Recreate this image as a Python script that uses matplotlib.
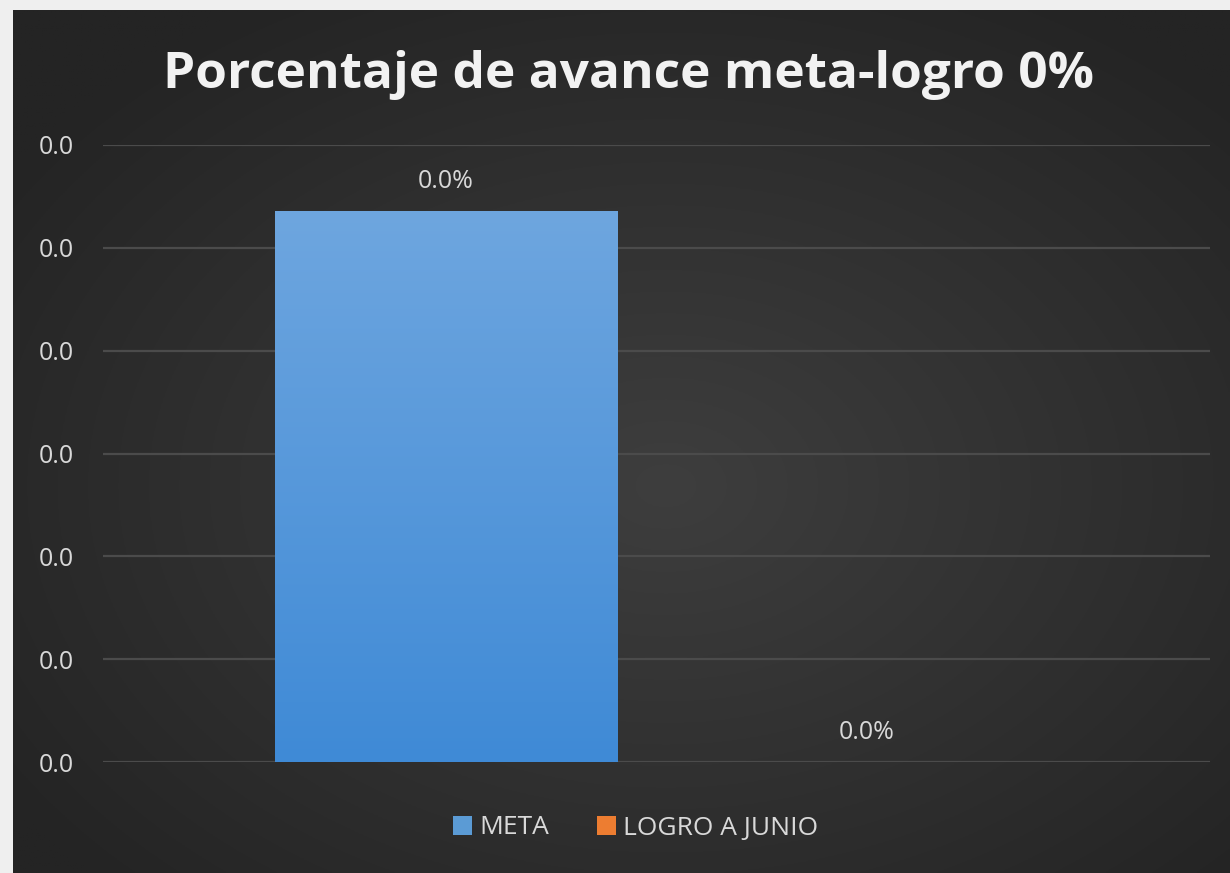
import numpy as np
import matplotlib
matplotlib.use("Agg")
import matplotlib.pyplot as plt
from matplotlib.patches import Patch

# ---- data ----
series = ["META", "LOGRO A JUNIO"]
values = [0.00536, 0.0]
series_colors = ["#5b9bd5", "#ed7d31"]
yticks = [0.000, 0.001, 0.002, 0.003, 0.004, 0.005, 0.006]
title = "Porcentaje de avance meta-logro 0%"

W, H = 1230, 873
fig = plt.figure(figsize=(W / 100, H / 100), dpi=100)
fig.patch.set_facecolor("#efefef")

# dark radial background panel
bg = fig.add_axes([13 / W, 0, (W - 13) / W, (H - 10) / H], zorder=-2)
yy, xx = np.mgrid[0:400, 0:560]
cx, cy = 300, 220
r = np.sqrt(((xx - cx) / 560) ** 2 + ((yy - cy) / 400) ** 2)
r = np.clip(r / 0.65, 0, 1)
inner = np.array([0x3e, 0x3e, 0x3e]) / 255
outer = np.array([0x24, 0x24, 0x24]) / 255
img = inner[None, None, :] * (1 - r[..., None]) + outer[None, None, :] * r[..., None]
bg.imshow(img, aspect="auto", extent=[0, 1, 0, 1], origin="upper")
bg.set_axis_off()

ax = fig.add_axes([103 / W, (H - 762) / H, (1210 - 103) / W, (762 - 145) / H])
ax.set_facecolor("none")

offsets = [-0.19, 0.19]
width = 0.309
bars = ax.bar(offsets, values, width=width, color=series_colors, zorder=3)

# gradient overlay on bars
for b, c in zip(bars, series_colors):
    if b.get_height() <= 0:
        continue
    grad = np.linspace(0, 1, 256)[:, None]
    top = np.array([0x6e, 0xa6, 0xdf]) / 255
    bot = np.array([0x3f, 0x8a, 0xd6]) / 255
    gimg = top[None, None, :] * (1 - grad[..., None]) + bot[None, None, :] * grad[..., None]
    gimg = np.repeat(gimg, 2, axis=1)
    x0, x1 = b.get_x(), b.get_x() + b.get_width()
    im = ax.imshow(gimg, extent=[x0, x1, 0, b.get_height()], aspect="auto", zorder=4, origin="upper")
    im.set_clip_path(b)

ax.set_xlim(-0.5, 0.5)
ax.set_ylim(yticks[0], yticks[-1])
ax.set_yticks(yticks)
ax.set_yticklabels([f"{t:.1f}" for t in yticks])
ax.set_xticks([])
ax.yaxis.grid(True, color="#4b4b4b", linewidth=1.6, zorder=0)
ax.set_axisbelow(True)
for s in ax.spines.values():
    s.set_visible(False)
ax.tick_params(axis="y", length=0, pad=21, labelsize=18, labelcolor="#d9d9d9")
for lbl in ax.get_yticklabels():
    lbl.set_fontfamily("Open Sans")

for b, v in zip(bars, values):
    ax.annotate(f"{v:.1f}%", (b.get_x() + b.get_width() / 2, v), xytext=(0, 21),
                textcoords="offset points", ha="center", va="center",
                fontsize=18, color="#d9d9d9", family="Open Sans", zorder=5)

fig.text(628 / W, 1 - 75 / H, title, ha="center", va="center", fontsize=37,
         fontweight="bold", color="#f2f2f2", family="Open Sans")

handles = [Patch(facecolor=c, edgecolor="none") for c in series_colors]
leg = fig.legend(handles, series, loc="center", bbox_to_anchor=(636 / W, 1 - 828 / H),
                 ncol=2, frameon=False, fontsize=19, handlelength=0.7, handleheight=0.7,
                 handletextpad=0.3, columnspacing=1.8)
for t in leg.get_texts():
    t.set_color("#d9d9d9")
    t.set_fontfamily("Open Sans")

fig.savefig("out.png", dpi=100)
